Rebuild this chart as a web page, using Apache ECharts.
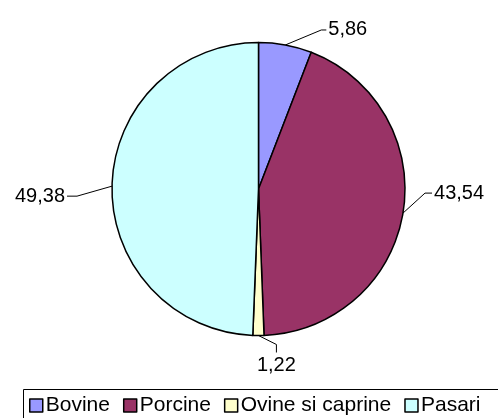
<!DOCTYPE html>
<html>
<head>
<meta charset="utf-8">
<script src="https://cdn.jsdelivr.net/npm/echarts@6/dist/echarts.min.js"></script>
<style>
html,body{margin:0;padding:0;background:#fff;}
#c{width:498px;height:418px;}
</style>
</head>
<body>
<div id="c"></div>
<script>
const categories = ['Bovine', 'Porcine', 'Ovine si caprine', 'Pasari'];
const values = [5.86, 43.54, 1.22, 49.38];
const colors = ['#9999FF', '#993366', '#FFFFCC', '#CCFFFF'];

// leader-line styling: bend offset from slice edge, then a short tail
const leader = [
  { bx: 36, by: -15, tail: 5, side: 'right' },
  { bx: 22, by: -20, tail: 7, side: 'right' },
  { bx: 18, by: 9, tail: 8, side: 'down' },
  { bx: -35, by: 10, tail: -10, side: 'left' }
];

const CX = 258.5, CY = 189, R = 146.5;
const total = values.reduce((a, b) => a + b, 0);
const font = '"Liberation Sans", Arial, sans-serif';

const chart = echarts.init(document.getElementById('c'), null, { renderer: 'canvas' });

const data = categories.map((name, i) => ({
  name: name,
  value: values[i],
  itemStyle: { color: colors[i] }
}));

function edgePoint(i) {
  let cum = 0;
  for (let k = 0; k < i; k++) cum += values[k];
  const theta = (cum + values[i] / 2) / total * Math.PI * 2;
  return [CX + R * Math.sin(theta), CY - R * Math.cos(theta)];
}

chart.setOption({
  animation: false,
  backgroundColor: '#fff',
  graphic: [{
    type: 'rect',
    left: 21,
    top: 387,
    shape: { width: 490, height: 45 },
    style: { fill: 'none', stroke: '#000', lineWidth: 1 },
    silent: true,
    z: 0
  }],
  legend: {
    data: categories,
    left: 21,
    top: 387,
    orient: 'horizontal',
    icon: 'rect',
    itemWidth: 13,
    itemHeight: 13,
    itemGap: 13,
    padding: [8, 2, 4, 8],
    textStyle: { fontSize: 21, color: '#000', fontFamily: font, padding: [0, 0, 0, -2] },
    itemStyle: { borderColor: '#000', borderWidth: 1.5 }
  },
  series: [{
    type: 'pie',
    center: [CX, CY],
    radius: R,
    startAngle: 90,
    clockwise: true,
    avoidLabelOverlap: false,
    itemStyle: { borderColor: '#000', borderWidth: 1.5 },
    label: {
      show: true,
      position: 'outside',
      fontSize: 20,
      color: '#000',
      fontFamily: font,
      formatter: p => p.value.toFixed(2).replace('.', ',')
    },
    labelLine: { show: true, smooth: false, length: 10, length2: 10, lineStyle: { color: '#000', width: 1 } },
    labelLayout: function (params) {
      const i = params.dataIndex;
      const L = leader[i];
      const a = edgePoint(i);
      const b = [a[0] + L.bx, a[1] + L.by];
      if (L.side === 'down') {
        const e = [b[0], b[1] + L.tail];
        return { x: e[0], y: e[1] + 3, align: 'center', verticalAlign: 'top', labelLinePoints: [a, b, e] };
      }
      const e = [b[0] + L.tail, b[1]];
      if (L.side === 'right') {
        return { x: e[0] + 2, y: e[1], align: 'left', verticalAlign: 'middle', labelLinePoints: [a, b, e] };
      }
      return { x: e[0] - 2, y: e[1], align: 'right', verticalAlign: 'middle', labelLinePoints: [a, b, e] };
    },
    emphasis: { disabled: true },
    data: data
  }]
});
</script>
</body>
</html>
